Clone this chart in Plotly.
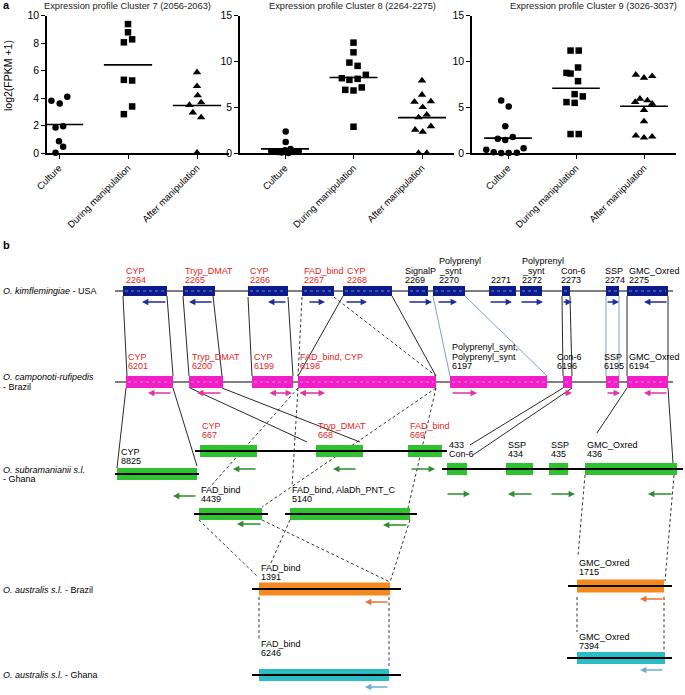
import plotly.graph_objects as go
import numpy as np

W, H = 685, 695
FONT = "Liberation Sans"

# ---------------- Panel a data ----------------
categories = ["Culture", "During manipulation", "After manipulation"]
cluster_titles = ["Expression profile Cluster 7 (2056-2063)",
                  "Expression profile Cluster 8 (2264-2275)",
                  "Expression profile Cluster 9 (3026-3037)"]

c7_culture = [3.80, 3.61, 4.09, 1.86, 1.94, 0.85, 0.46, 0.02]
c7_culture_dx = [-0.11, 0.01, 0.12, -0.05, 0.06, 0.0, 0.06, -0.05]
c7_during = [9.39, 8.79, 8.06, 8.28, 5.33, 5.28, 3.39, 2.83]
c7_during_dx = [0, 0, -0.06, 0.06, -0.06, 0.06, 0.06, -0.06]
c7_after = [5.88, 4.87, 4.19, 3.49, 3.68, 2.95, 2.59, 0.02]
c7_after_dx = [0, 0, 0.01, -0.11, 0.06, -0.06, 0.06, 0]

c8_culture = [2.36, 1.20, 0.44, 0.20, 0.15, 0.10, 0.05, 0.30, 0.00, 0.25, 0.15, 0.20]
c8_culture_dx = [0.01, 0.01, 0.08, -0.20, -0.15, -0.10, -0.05, 0.0, 0.05, 0.10, 0.15, 0.20]
c8_during = [12.06, 11.00, 9.88, 9.52, 8.17, 7.99, 8.10, 8.54, 6.90, 6.83, 7.16, 2.87]
c8_during_dx = [0, 0, -0.06, 0.06, -0.17, -0.06, 0.06, 0.18, -0.12, 0, 0.12, 0]
c8_after = [7.92, 6.36, 5.59, 5.63, 5.01, 3.89, 4.18, 2.54, 2.91, 2.32, 0.0, 0.0]
c8_after_dx = [0, 0, -0.11, 0.13, 0.01, -0.05, 0.07, -0.10, 0.13, 0.01, -0.05, 0.07]

c9_culture = [5.74, 5.09, 2.91, 1.56, 1.42, 1.74, 0.36, 0.07, 0.0, 0.0, 0.04, 0.51]
c9_culture_dx = [-0.10, 0.01, -0.04, -0.15, -0.04, 0.07, -0.32, -0.21, -0.10, 0.01, 0.13, 0.23]
c9_during = [11.19, 11.19, 9.34, 8.75, 8.68, 7.85, 6.43, 5.56, 5.48, 6.18, 2.07, 2.07]
c9_during_dx = [-0.08, 0.04, 0.03, -0.14, -0.08, 0.03, -0.02, -0.14, -0.02, 0.10, -0.08, 0.04]
c9_after = [8.54, 8.21, 8.39, 5.92, 5.56, 5.74, 5.38, 4.69, 3.45, 1.89, 1.67, 1.78]
c9_after_dx = [-0.12, 0, 0.12, -0.06, -0.13, 0.05, 0.12, 0, 0, -0.12, 0, 0.12]

y_max = [10, 15, 15]
y_dtick = [2, 5, 5]

# ---------------- Panel b data ----------------
species_text = ["<i>O. kimflemingiae</i> - USA",
                "<i>O. camponoti-rufipedis</i>", "- Brazil",
                "<i>O. subramanianii s.l.</i>", "- Ghana",
                "<i>O. australis s.l.</i> - Brazil",
                "<i>O. australis s.l.</i> - Ghana"]
species_y = [291, 377, 387, 470, 479, 590, 675]

species_box = ["#0c1b8c", "#f21fc8", "#2fc12f", "#f5881f", "#2bbcc6"]
species_arrow = ["#1e2e96", "#e6309f", "#2f8b2f", "#ea7034", "#72acd0"]
species_half_h = [5, 6, 6, 6.5, 6]

# contigs: species index, backbone y, x start, x end, arrow row y
contig_species = [0, 1, 2, 2, 2, 2, 2, 3, 3, 4, 4]
contig_y = [291, 382, 474, 451, 469, 514, 514, 589, 586, 675, 658]
contig_x0 = [115, 115, 115, 195, 442, 194, 285, 252, 568, 252, 567]
contig_x1 = [673, 673, 199, 447, 683, 268, 417, 401, 672, 401, 672]
contig_arrow_y = [302, 393, 496, 469, 494, 524, 525, 602, 599, 687, 670]

gene_label = ["CYP|2264", "Tryp_DMAT|2265", "CYP|2266", "FAD_bind|2267", "CYP|2268",
              "SignalP|2269", "Polyprenyl|_synt|2270", "2271", "Polyprenyl|_synt|2272",
              "Con-6|2273", "SSP|2274", "GMC_Oxred|2275",
              "CYP|6201", "Tryp_DMAT|6200", "CYP|6199", "FAD_bind, CYP|6198",
              "Polyprenyl_synt,|Polyprenyl_synt|6197", "Con-6|6196", "SSP|6195", "GMC_Oxred|6194",
              "CYP|8825", "CYP|667", "Tryp_DMAT|668", "FAD_bind|669",
              "433|Con-6", "SSP|434", "SSP|435", "GMC_Oxred|436",
              "FAD_bind|4439", "FAD_bind, AlaDh_PNT_C|5140",
              "FAD_bind|1391", "GMC_Oxred|1715",
              "FAD_bind|6246", "GMC_Oxred|7394"]
gene_contig = [0] * 12 + [1] * 8 + [2, 3, 3, 3, 4, 4, 4, 4, 5, 6, 7, 8, 9, 10]
gene_start = [123, 183, 248, 302, 343, 408, 433, 489, 520, 562, 606, 627,
              126, 189, 252, 298, 450, 563, 606, 627,
              117, 200, 316, 408, 447, 506, 549, 585, 199, 290,
              259, 577, 259, 577]
gene_end = [167, 215, 288, 334, 392, 428, 465, 516, 542, 570, 619, 668,
            173, 223, 293, 436, 547, 572, 619, 668,
            197, 257, 363, 442, 467, 533, 568, 677, 262, 410,
            390, 664, 389, 665]
gene_red = [1, 1, 1, 1, 1, 0, 0, 0, 0, 0, 0, 0,
            1, 1, 1, 1, 0, 0, 0, 0,
            0, 1, 1, 1, 0, 0, 0, 0, 0, 0,
            0, 0, 0, 0]
gene_label_x = [124, 183, 248, 302, 345, 403, 437, 489, 520, 559, 603, 627,
                126, 190, 252, 298, 450, 555, 602, 627,
                119, 200, 316, 408, 447, 506, 549, 585, 199, 290,
                259, 577, 259, 577]
gene_label_y = [280] * 12 + [366] * 8 + [461, 435, 435, 435, 454, 454, 454, 454, 499, 499,
                                          577, 572, 653, 646]
gene_dir = ["<", "<", "<", ">", ">", ">", ">", ">", ">", ">", ">", "<",
            "<", "<", "<>", "<>", ">", ">", ">", "<",
            "<", "<", "<", ">", ">", "<", ">", "<", "<", "<",
            "<", "<", "<", "<"]
gene_arrow_x0 = [142, 189, 268, 308, 345, 408, 437, 489, 520, 562, 606, 644,
                 148, 197, 268, 298, 451, 563, 606, 644,
                 173, 233, 333, 410, 446, 508, 550, 648, 237, 383,
                 365, 640, 365, 640]
gene_arrow_x1 = [167, 213, 287, 325, 367, 432, 457, 512, 543, 572, 619, 668,
                 172, 222, 292, 325, 477, 572, 620, 668,
                 197, 257, 357, 435, 470, 533, 575, 673, 262, 408,
                 389, 664, 389, 664]

# homology links: x0, y0, x1, y1, style
link_x0 = [123, 167, 183, 213, 248, 288, 343, 392, 562, 570, 627, 668,
           433, 465, 606, 619,
           302, 334,
           126, 173, 190, 222, 563, 572, 627, 668,
           298, 298, 436, 436,
           199, 262, 290, 410, 585, 674,
           259, 389, 577, 664]
link_y0 = [296, 296, 296, 296, 297, 297, 296, 296, 296, 296, 296, 296,
           296, 296, 296, 296,
           297, 297,
           388, 388, 388, 388, 388, 388, 388, 388,
           388, 388, 388, 388,
           520, 520, 520, 520, 475, 475,
           597, 597, 597, 597]
link_x1 = [127, 173, 189, 222, 252, 293, 298, 436, 563, 572, 627, 668,
           450, 547, 606, 619,
           298, 436,
           117, 197, 307, 360, 470, 473, 597, 673,
           210, 292, 262, 408,
           258, 390, 270, 390, 578, 665,
           259, 389, 577, 664]
link_y1 = [376, 376, 376, 376, 376, 376, 376, 376, 376, 376, 376, 376,
           376, 376, 376, 376,
           376, 376,
           468, 466, 442, 442, 445, 455, 433, 463,
           487, 487, 507, 508,
           577, 582, 565, 582, 556, 581,
           639, 668, 632, 652]
link_style = ["solid"] * 12 + ["blue"] * 4 + ["dash"] * 2 + ["solid"] * 8 + ["dash"] * 4 + \
             ["dash"] * 6 + ["dash"] * 4


def px(x):
    return x / W


def py(y):
    return 1 - y / H


fig = go.Figure()

# ---------------- Panel a ----------------
axis_px = [(47, 229, 59, 69.0), (240, 454, 285, 68.5), (472, 676, 508, 68.0)]
y_top_px, y_bot_px = 15.7, 153
groups = [
    [(c7_culture, c7_culture_dx), (c7_during, c7_during_dx), (c7_after, c7_after_dx)],
    [(c8_culture, c8_culture_dx), (c8_during, c8_during_dx), (c8_after, c8_after_dx)],
    [(c9_culture, c9_culture_dx), (c9_during, c9_during_dx), (c9_after, c9_after_dx)],
]
symbols = ["circle", "square", "triangle-up"]
sizes = [6.5, 6.5, 7.5]
annotations = []
shapes = []

for k in range(3):
    xa = "x" if k == 0 else f"x{k + 1}"
    ya = "y" if k == 0 else f"y{k + 1}"
    for j, (vals, dx) in enumerate(groups[k]):
        fig.add_trace(go.Scatter(
            x=[j + d for d in dx], y=vals, mode="markers",
            marker=dict(symbol=symbols[j], size=sizes[j], color="black", line=dict(width=0)),
            xaxis=xa, yaxis=ya, cliponaxis=False, showlegend=False, hoverinfo="y"))
        m = float(np.mean(vals))
        fig.add_trace(go.Scatter(
            x=[j - 0.35, j + 0.35], y=[m, m], mode="lines",
            line=dict(color="black", width=1.6),
            xaxis=xa, yaxis=ya, cliponaxis=False, showlegend=False, hoverinfo="skip"))
    x0p, x1p, c0p, unit = axis_px[k]
    xr = [-(c0p - x0p) / unit, (x1p - c0p) / unit]
    xkey = "xaxis" if k == 0 else f"xaxis{k + 1}"
    ykey = "yaxis" if k == 0 else f"yaxis{k + 1}"
    fig.update_layout(**{
        xkey: dict(domain=[px(x0p), px(x1p)], range=xr, anchor=ya, automargin=False,
                   tickvals=[0, 1, 2], ticktext=categories, tickangle=-45,
                   showline=True, linecolor="black", linewidth=1.5,
                   ticks="outside", ticklen=4, tickwidth=1.2, tickcolor="black",
                   showgrid=False, zeroline=False,
                   tickfont=dict(family=FONT, size=9.5, color="black")),
        ykey: dict(domain=[py(y_bot_px), py(y_top_px)], range=[0, y_max[k]], anchor=xa,
                   automargin=False,
                   dtick=y_dtick[k], showline=True, linecolor="black", linewidth=1.5,
                   ticks="outside", ticklen=4, tickwidth=1.2, tickcolor="black",
                   showgrid=False, zeroline=False,
                   tickfont=dict(family=FONT, size=10.5, color="black")),
    })
    title_cx = [128, 353, 593][k]
    annotations.append(dict(text=cluster_titles[k], x=px(title_cx), y=py(6), xref="paper",
                            yref="paper", showarrow=False, xanchor="center", yanchor="middle",
                            font=dict(family=FONT, size=9.3, color="#222")))

annotations.append(dict(text="log2(FPKM +1)", x=px(8), y=py(76), xref="paper", yref="paper",
                        textangle=-90, showarrow=False, xanchor="center", yanchor="middle",
                        font=dict(family=FONT, size=10.5, color="black")))
annotations.append(dict(text="<b>a</b>", x=px(1), y=py(5), xref="paper", yref="paper",
                        showarrow=False, xanchor="left", yanchor="middle",
                        font=dict(family=FONT, size=11, color="black")))
annotations.append(dict(text="<b>b</b>", x=px(1), y=py(245), xref="paper", yref="paper",
                        showarrow=False, xanchor="left", yanchor="middle",
                        font=dict(family=FONT, size=11, color="black")))

# ---------------- Panel b (diagram axis) ----------------
fig.add_trace(go.Scatter(x=[0, W], y=[0, H], mode="markers", marker=dict(opacity=0),
                         xaxis="x4", yaxis="y4", showlegend=False, hoverinfo="skip"))
fig.update_layout(
    xaxis4=dict(domain=[0, 1], range=[0, W], anchor="y4", visible=False, fixedrange=True,
                automargin=False),
    yaxis4=dict(domain=[0, 1], range=[H, 0], anchor="x4", visible=False, fixedrange=True,
                automargin=False),
)

for t, yv in zip(species_text, species_y):
    annotations.append(dict(text=t, x=1, y=yv, xref="x4", yref="y4", showarrow=False,
                            xanchor="left", yanchor="middle",
                            font=dict(family=FONT, size=9, color="black")))

# links
link_color = {"solid": "#111111", "blue": "#6d97c4", "dash": "#222222"}
for a, b, c, d, s in zip(link_x0, link_y0, link_x1, link_y1, link_style):
    shapes.append(dict(type="line", xref="x4", yref="y4", x0=a, y0=b, x1=c, y1=d,
                       line=dict(color=link_color[s], width=0.9,
                                 dash="3px,2.5px" if s == "dash" else "solid")))


def add_backbone(ci):
    shapes.append(dict(type="line", xref="x4", yref="y4", x0=contig_x0[ci], x1=contig_x1[ci],
                       y0=contig_y[ci], y1=contig_y[ci],
                       line=dict(color="black", width=1.2 if contig_species[ci] < 2 else 1.8)))


for ci in range(len(contig_y)):
    if contig_species[ci] < 2:
        add_backbone(ci)

for g in range(len(gene_label)):
    ci = gene_contig[g]
    sp = contig_species[ci]
    yc = contig_y[ci]
    hh = species_half_h[sp]
    shapes.append(dict(type="rect", xref="x4", yref="y4", x0=gene_start[g], x1=gene_end[g],
                       y0=yc - hh, y1=yc + hh, fillcolor=species_box[sp], line=dict(width=0)))
    if sp < 2:
        shapes.append(dict(type="line", xref="x4", yref="y4", x0=gene_start[g] + 2,
                           x1=gene_end[g] - 2, y0=yc, y1=yc,
                           line=dict(color="rgba(255,255,255,0.45)", width=1, dash="dot")))
    lines = gene_label[g].split("|")
    n = len(lines)
    for li, txt in enumerate(lines):
        annotations.append(dict(text=txt, x=gene_label_x[g], y=gene_label_y[g] - (n - 1 - li) * 9.5,
                                xref="x4", yref="y4", showarrow=False, xanchor="left",
                                yanchor="middle",
                                font=dict(family=FONT, size=9,
                                          color="#ee2222" if gene_red[g] else "black")))
    ay = contig_arrow_y[ci]
    d = gene_dir[g]
    if d == "<":
        head, tail, side = gene_arrow_x0[g], gene_arrow_x1[g], "end"
    elif d == ">":
        head, tail, side = gene_arrow_x1[g], gene_arrow_x0[g], "end"
    else:
        head, tail, side = gene_arrow_x1[g], gene_arrow_x0[g], "end+start"
    annotations.append(dict(text="", x=head, y=ay, ax=tail, ay=ay, xref="x4", yref="y4",
                            axref="x4", ayref="y4", showarrow=True, arrowhead=2,
                            arrowsize=0.8, arrowwidth=1.6, arrowside=side,
                            arrowcolor=species_arrow[sp]))

for ci in range(len(contig_y)):
    if contig_species[ci] >= 2:
        add_backbone(ci)

fig.update_layout(
    template="none",
    width=W, height=H, autosize=False,
    margin=dict(l=0, r=0, t=0, b=0, pad=0),
    paper_bgcolor="white", plot_bgcolor="rgba(0,0,0,0)",
    annotations=annotations, shapes=shapes,
    font=dict(family=FONT, color="black"),
    showlegend=False,
)

fig.write_html("out.html",
               config={"displayModeBar": False},
               post_script="document.body.style.margin='0';document.body.style.padding='0';"
                           "document.body.style.overflow='hidden';")
